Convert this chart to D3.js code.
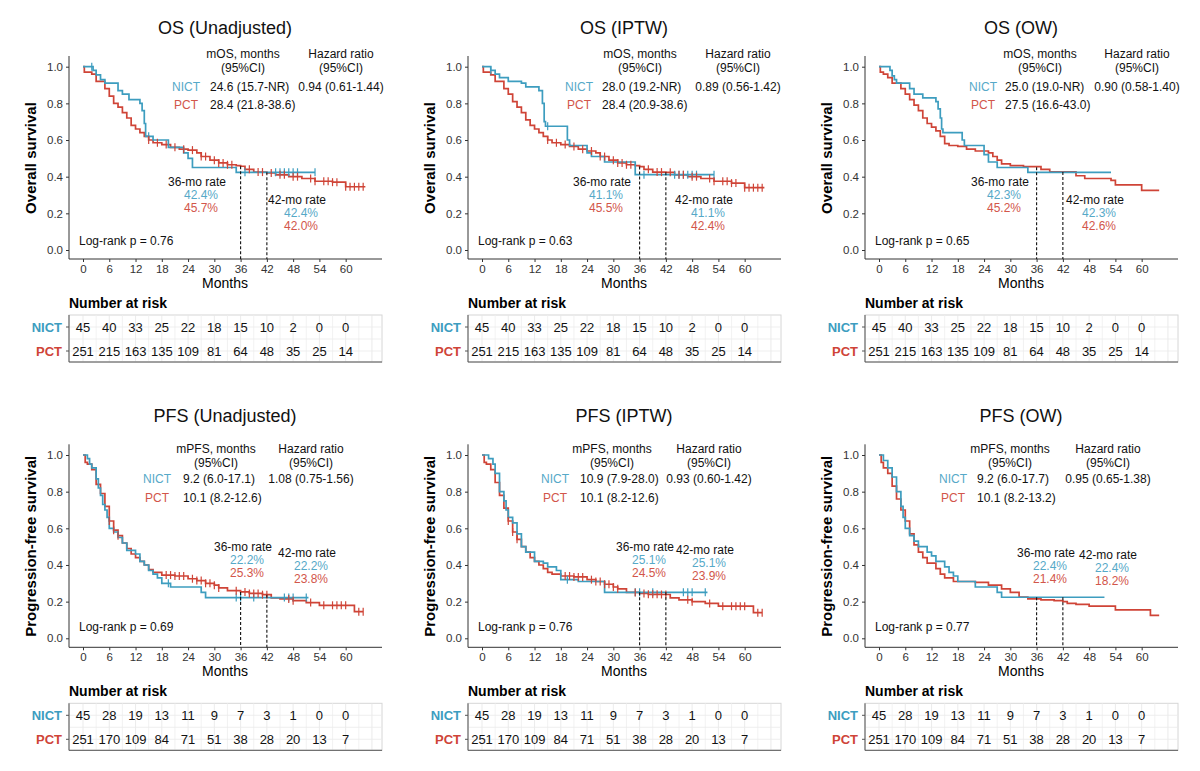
<!DOCTYPE html>
<html>
<head>
<meta charset="utf-8">
<script src="https://cdn.jsdelivr.net/npm/d3@7"></script>
<style>
  body { margin: 0; background: #fff; }
  svg { font-family: "Liberation Sans", Arial, sans-serif; }
</style>
</head>
<body>
<svg id="chart" width="1200" height="771"></svg>
<script>
var NICT_COL = "#3d9dbf", PCT_COL = "#cf4437";
var NICT_TXT = "#56a9c8", PCT_TXT = "#d2564a";

// step curves: [month, survival]
var osUnadjNict = [[0,1],[2.3,0.98],[3,0.955],[4,0.93],[5,0.91],[8,0.87],[9,0.85],[10.5,0.82],[13,0.8],[13.5,0.76],[14,0.69],[14.3,0.62],[16,0.6],[19.5,0.56],[23,0.53],[24,0.5],[25,0.45],[35,0.424],[53,0.424]];
var osUnadjPct = [[0,1],[0.3,0.97],[2,0.96],[3,0.92],[5,0.88],[6,0.84],[7,0.8],[8,0.78],[9,0.75],[10,0.72],[11,0.68],[12,0.66],[13,0.64],[14,0.62],[15,0.6],[16,0.585],[18,0.575],[20,0.56],[22,0.55],[24,0.545],[26,0.53],[27,0.51],[29,0.49],[31,0.475],[33,0.465],[35,0.46],[36,0.457],[37,0.44],[39,0.425],[42,0.42],[44,0.41],[47,0.4],[50,0.39],[53,0.375],[57,0.37],[60,0.345],[64.5,0.345]];
var osIptwNict = [[0,1],[2,0.98],[3,0.96],[4,0.94],[6,0.92],[9,0.91],[10,0.89],[13,0.87],[13.8,0.8],[14.2,0.7],[14.5,0.675],[19.5,0.6],[20,0.57],[24,0.53],[25,0.51],[28,0.48],[35,0.411],[53,0.411]];
var osIptwPct = [[0,1],[0.3,0.97],[2,0.955],[3,0.92],[5,0.88],[6,0.85],[7,0.81],[8,0.78],[9,0.75],[10,0.71],[11,0.68],[12,0.66],[13,0.64],[14,0.62],[15,0.6],[16,0.585],[18,0.575],[20,0.565],[22,0.55],[24,0.54],[26,0.53],[27,0.51],[29,0.49],[31,0.475],[33,0.465],[35,0.46],[36,0.455],[37,0.44],[39,0.425],[42,0.424],[44,0.41],[47,0.4],[50,0.39],[53,0.375],[57,0.365],[60,0.34],[64.5,0.34]];
var osOwNict = [[0,1],[2.5,0.98],[3,0.95],[3.5,0.93],[4,0.91],[7,0.88],[8,0.85],[10,0.83],[13,0.81],[13.5,0.77],[14,0.72],[14.3,0.66],[14.6,0.64],[19,0.6],[19.5,0.57],[24,0.52],[25,0.48],[27,0.45],[34,0.423],[53,0.423]];
var osOwPct = [[0,1],[0.3,0.97],[1,0.96],[2,0.94],[3,0.91],[5,0.88],[6,0.85],[7,0.82],[8,0.79],[9,0.76],[10,0.72],[11,0.69],[12,0.67],[13,0.65],[14,0.62],[15,0.58],[16,0.57],[18,0.565],[20,0.55],[22,0.54],[25,0.53],[26,0.51],[27,0.49],[28,0.47],[30,0.46],[33,0.455],[37,0.44],[39,0.426],[45,0.405],[47,0.39],[53,0.38],[54,0.355],[60,0.325],[64,0.325]];
var pfsUnadjNict = [[0,1],[1,0.98],[1.5,0.95],[2,0.93],[3,0.87],[3.5,0.82],[4,0.78],[4.5,0.73],[5,0.7],[5.5,0.66],[6,0.6],[7,0.58],[8,0.55],[9,0.52],[10,0.48],[12,0.46],[13,0.42],[14,0.4],[15,0.37],[16,0.35],[17,0.33],[18,0.3],[20,0.28],[27,0.25],[28,0.222],[51.5,0.222]];
var pfsUnadjPct = [[0,1],[0.5,0.96],[1,0.95],[2,0.92],[3,0.84],[4,0.79],[5,0.72],[6,0.64],[7,0.59],[8,0.56],[9,0.52],[10,0.49],[11,0.46],[12,0.44],[13,0.42],[14,0.4],[15,0.375],[16,0.36],[18,0.345],[21,0.34],[24,0.325],[26,0.315],[28,0.3],[30,0.29],[31,0.275],[33,0.26],[36,0.253],[38,0.245],[41,0.238],[43,0.22],[45,0.215],[48,0.205],[51,0.195],[54,0.18],[62,0.145],[64,0.145]];
var pfsIptwNict = [[0,1],[1.5,0.98],[2.5,0.95],[3,0.9],[4,0.8],[5,0.75],[5.5,0.7],[6,0.66],[7,0.63],[8,0.57],[9,0.5],[10,0.47],[12,0.42],[14,0.41],[15,0.39],[17,0.37],[18,0.32],[22,0.31],[28,0.251],[51.5,0.251]];
var pfsIptwPct = [[0,1],[0.5,0.96],[1,0.95],[2,0.92],[3,0.85],[4,0.78],[5,0.71],[6,0.64],[7,0.58],[8,0.54],[9,0.5],[10,0.47],[11,0.44],[12,0.42],[13,0.4],[14,0.38],[15,0.36],[16,0.35],[18,0.34],[21,0.335],[24,0.32],[26,0.31],[28,0.295],[30,0.28],[31,0.27],[33,0.25],[36,0.245],[38,0.24],[41,0.239],[43,0.22],[45,0.21],[48,0.2],[51,0.19],[54,0.175],[62,0.14],[64,0.14]];
var pfsOwNict = [[0,1],[1,0.97],[2,0.93],[3,0.88],[4,0.8],[5,0.72],[5.5,0.66],[6,0.6],[7,0.56],[8,0.53],[9,0.5],[11,0.47],[12,0.45],[13,0.42],[15,0.39],[16,0.36],[17,0.34],[18,0.31],[22,0.28],[27,0.25],[28,0.224],[51.5,0.224]];
var pfsOwPct = [[0,1],[0.5,0.96],[1,0.93],[2,0.9],[3,0.83],[4,0.76],[5,0.7],[6,0.64],[7,0.57],[8,0.51],[9,0.47],[10,0.44],[11,0.41],[13,0.38],[14,0.35],[15,0.33],[17,0.31],[22,0.305],[25,0.29],[28,0.27],[30,0.25],[32,0.225],[34,0.215],[37,0.21],[40,0.205],[42,0.2],[43,0.19],[45,0.185],[48,0.175],[54,0.155],[62,0.125],[64,0.125]];

// censor times
var osNictCens = [2,15,37,44,45,46,47,48,49,53];
var osPctCens = [15,17,19,21,23,25,27,28,30,31,32,33,34,38,40,41,43,45,46,48,49,52,53,55,56,57,58,60,61,62,63,64];
var pfsNictCens = [19.5,35,36,39,46,47,48,51];
var pfsPctCens = [6,7,8,19,20,21,22,23,25,26,27,28,29,30,31,35,37,38,39,40,41,42,47,48,52,55,57,58,59,60,63,64];

// numbers at risk, months 0..60 by 6
var riskMonths = [0,6,12,18,24,30,36,42,48,54,60];
var osRiskNict = [45,40,33,25,22,18,15,10,2,0,0];
var osRiskPct = [251,215,163,135,109,81,64,48,35,25,14];
var pfsRiskNict = [45,28,19,13,11,9,7,3,1,0,0];
var pfsRiskPct = [251,170,109,84,71,51,38,28,20,13,7];

var titles = ["OS (Unadjusted)","OS (IPTW)","OS (OW)","PFS (Unadjusted)","PFS (IPTW)","PFS (OW)"];
var medians = [["24.6 (15.7-NR)","28.4 (21.8-38.6)"],["28.0 (19.2-NR)","28.4 (20.9-38.6)"],["25.0 (19.0-NR)","27.5 (16.6-43.0)"],
               ["9.2 (6.0-17.1)","10.1 (8.2-12.6)"],["10.9 (7.9-28.0)","10.1 (8.2-12.6)"],["9.2 (6.0-17.7)","10.1 (8.2-13.2)"]];
var hazards = ["0.94 (0.61-1.44)","0.89 (0.56-1.42)","0.90 (0.58-1.40)","1.08 (0.75-1.56)","0.93 (0.60-1.42)","0.95 (0.65-1.38)"];
var pvalues = ["0.76","0.63","0.65","0.69","0.76","0.77"];
var rate36 = [[42.4,45.7],[41.1,45.5],[42.3,45.2],[22.2,25.3],[25.1,24.5],[22.4,21.4]];
var rate42 = [[42.4,42.0],[41.1,42.4],[42.3,42.6],[22.2,23.8],[25.1,23.9],[22.4,18.2]];

var curves = [[osUnadjNict,osUnadjPct],[osIptwNict,osIptwPct],[osOwNict,osOwPct],[pfsUnadjNict,pfsUnadjPct],[pfsIptwNict,pfsIptwPct],[pfsOwNict,pfsOwPct]];

// layout per panel (pixels within panel)
var layouts = [
  {hx:243,hy:58,hrx:341,lx:186,vx:210,ny:91,py:109,r36:[197,186],r42:[297,204]},
  {hx:241,hy:58,hrx:339,lx:180,vx:203,ny:91,py:109,r36:[203,186],r42:[305,204]},
  {hx:244,hy:58,hrx:341,lx:187,vx:209,ny:91,py:109,r36:[204,186],r42:[299,204]},
  {hx:216,hy:65,hrx:311,lx:157,vx:183,ny:95,py:114,r36:[243,163],r42:[307,169]},
  {hx:213,hy:65,hrx:310,lx:156,vx:181,ny:95,py:114,r36:[246,163],r42:[306,166]},
  {hx:214,hy:65,hrx:312,lx:157,vx:181,ny:95,py:114,r36:[250,169],r42:[312,171]}
];

var svg = d3.select("#chart");
var x = d3.scaleLinear().domain([-3.2, 68.3]).range([69, 382]);
var y = d3.scaleLinear().domain([0, 1]).range([250, 66.7]);

function survAt(c, t) {
  var v = c[0][1];
  c.forEach(function(p) { if (p[0] <= t) v = p[1]; });
  return v;
}

var line = d3.line().x(function(d) { return x(d[0]); }).y(function(d) { return y(d[1]); }).curve(d3.curveStepAfter);

titles.forEach(function(title, i) {
  var col = i % 3, row = Math.floor(i / 3);
  var isOs = row == 0, isOw = col == 2;
  var L = layouts[i];
  var g = svg.append("g").attr("transform", "translate(" + [0, 399, 796][col] + "," + (row * 388.3) + ")");

  g.append("text").attr("x", 225).attr("y", 34).attr("text-anchor", "middle")
    .attr("font-size", 18).attr("fill", "#111").text(title);

  // axes
  var ya = g.append("g").attr("transform", "translate(69,0)")
    .call(d3.axisLeft(y).tickValues([0,0.2,0.4,0.6,0.8,1]).tickFormat(d3.format(".1f")).tickSize(3).tickSizeOuter(0));
  ya.select(".domain").attr("d", "M0,56V259").attr("stroke", "#333");
  var xa = g.append("g").attr("transform", "translate(0,259)")
    .call(d3.axisBottom(x).tickValues(d3.range(0, 61, 6)).tickSize(3).tickSizeOuter(0));
  xa.select(".domain").attr("d", "M69,0H382").attr("stroke", "#333");
  g.selectAll(".tick text").attr("font-size", 11.5).attr("fill", "#333").attr("font-family", "Liberation Sans, Arial");
  g.selectAll(".tick line").attr("stroke", "#333");

  g.append("text").attr("x", 225).attr("y", 288).attr("text-anchor", "middle").attr("font-size", 14).text("Months");
  g.append("text").attr("transform", "translate(36,158) rotate(-90)").attr("text-anchor", "middle")
    .attr("font-size", 15).attr("font-weight", "bold").text(isOs ? "Overall survival" : "Progression-free survival");

  // curves
  var cs = curves[i];
  [PCT_COL, NICT_COL].forEach(function(c, k) {
    var data = cs[1 - k];
    g.append("path").datum(data).attr("d", line).attr("fill", "none").attr("stroke", c).attr("stroke-width", 1.7);
  });
  // censor marks
  if (!isOw) {
    [[cs[0], isOs ? osNictCens : pfsNictCens, NICT_COL], [cs[1], isOs ? osPctCens : pfsPctCens, PCT_COL]].forEach(function(s) {
      g.selectAll(null).data(s[1]).enter().append("line")
        .attr("x1", function(t) { return x(t); }).attr("x2", function(t) { return x(t); })
        .attr("y1", function(t) { return y(survAt(s[0], t)) - 4; })
        .attr("y2", function(t) { return y(survAt(s[0], t)) + 4; })
        .attr("stroke", s[2]).attr("stroke-width", 1.2);
    });
  }

  // dashed reference lines
  [[36, rate36[i]], [42, rate42[i]]].forEach(function(r) {
    g.append("line").attr("x1", x(r[0])).attr("x2", x(r[0]))
      .attr("y1", y(d3.max(r[1]) / 100)).attr("y2", 259)
      .attr("stroke", "#111").attr("stroke-dasharray", "3,2").attr("stroke-width", 1.1);
  });

  function txt(xp, yp, s, fill, anchor) {
    g.append("text").attr("x", xp).attr("y", yp).attr("text-anchor", anchor || "middle")
      .attr("font-size", 12).attr("fill", fill || "#111").text(s);
  }
  txt(L.hx, L.hy, isOs ? "mOS, months" : "mPFS, months");
  txt(L.hx, L.hy + 14, "(95%CI)");
  txt(L.hrx, L.hy, "Hazard ratio");
  txt(L.hrx, L.hy + 14, "(95%CI)");
  txt(L.lx, L.ny, "NICT", NICT_TXT);
  txt(L.lx, L.py, "PCT", PCT_TXT);
  txt(L.vx, L.ny, medians[i][0], "#111", "start");
  txt(L.vx, L.py, medians[i][1], "#111", "start");
  txt(L.hrx, L.ny, hazards[i]);
  txt(79, isOs ? 245 : 243, "Log-rank p = " + pvalues[i], "#111", "start");
  txt(L.r36[0], L.r36[1], "36-mo rate");
  txt(L.r36[0] + 4, L.r36[1] + 13, rate36[i][0].toFixed(1) + "%", NICT_TXT);
  txt(L.r36[0] + 4, L.r36[1] + 26, rate36[i][1].toFixed(1) + "%", PCT_TXT);
  txt(L.r42[0], L.r42[1], "42-mo rate");
  txt(L.r42[0] + 4, L.r42[1] + 13, rate42[i][0].toFixed(1) + "%", NICT_TXT);
  txt(L.r42[0] + 4, L.r42[1] + 26, rate42[i][1].toFixed(1) + "%", PCT_TXT);

  // risk table
  var t = g.append("g");
  var top = 315, bot = top + 47;
  t.append("text").attr("x", 69).attr("y", 308).attr("font-size", 14).attr("font-weight", "bold").text("Number at risk");
  t.append("rect").attr("x", 69).attr("y", top).attr("width", 313).attr("height", 47)
    .attr("fill", "#fff").attr("stroke", "#d6d6d6");
  d3.range(0, 67, 3).forEach(function(m) {
    t.append("line").attr("x1", x(m)).attr("x2", x(m)).attr("y1", top).attr("y2", bot)
      .attr("stroke", m % 6 == 0 ? "#e6e6e6" : "#efefef").attr("stroke-width", 0.8);
  });
  [top + 12, top + 24, top + 36].forEach(function(yy) {
    t.append("line").attr("x1", 69).attr("x2", 382).attr("y1", yy).attr("y2", yy)
      .attr("stroke", "#ebebeb").attr("stroke-width", 0.8);
  });
  t.append("path").attr("d", "M69," + top + "V" + bot + "H382").attr("fill", "none").attr("stroke", "#555");
  var rn = isOs ? [osRiskNict, osRiskPct] : [pfsRiskNict, pfsRiskPct];
  [["NICT", NICT_COL, top + 12], ["PCT", PCT_COL, top + 36]].forEach(function(r, k) {
    t.append("text").attr("x", 62).attr("y", r[2] + 4.5).attr("text-anchor", "end")
      .attr("font-size", 13).attr("font-weight", "bold").attr("fill", r[1]).text(r[0]);
    t.append("line").attr("x1", 66).attr("x2", 69).attr("y1", r[2]).attr("y2", r[2]).attr("stroke", "#555");
    t.selectAll(null).data(riskMonths).enter().append("text")
      .attr("x", function(m) { return x(m); }).attr("y", r[2] + 4.5)
      .attr("text-anchor", "middle").attr("font-size", 13).attr("fill", "#111")
      .text(function(m, j) { return rn[k][j]; });
  });
});
</script>
</body>
</html>
